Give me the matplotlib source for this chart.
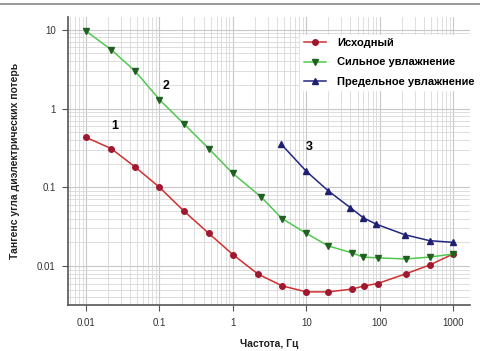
import numpy as np
import matplotlib.pyplot as plt
from matplotlib.lines import Line2D

# curve 1 - Исходный
f1 = [0.01, 0.022, 0.047, 0.1, 0.215, 0.47, 1.0, 2.2, 4.7, 10, 20, 42, 62, 94, 230, 480, 1000]
tg1 = [0.43, 0.31, 0.18, 0.1, 0.05, 0.026, 0.014, 0.0079, 0.0056, 0.0047, 0.0047, 0.0051, 0.0056, 0.006, 0.008, 0.0103, 0.0142]

# curve 2 - Сильное увлажнение
f2 = [0.01, 0.022, 0.047, 0.1, 0.215, 0.47, 1.0, 2.4, 4.7, 10, 20, 42, 60, 94, 230, 480, 1000]
tg2 = [9.6, 5.6, 2.96, 1.3, 0.64, 0.31, 0.15, 0.076, 0.04, 0.026, 0.018, 0.0147, 0.013, 0.0127, 0.0123, 0.013, 0.0142]

# curve 3 - Предельное увлажнение
f3 = [4.6, 10, 20, 40, 60, 90, 220, 480, 1000]
tg3 = [0.35, 0.16, 0.09, 0.055, 0.041, 0.034, 0.025, 0.021, 0.020]

labels = ["Исходный", "Сильное увлажнение", "Предельное увлажнение"]
xticks = [0.01, 0.1, 1, 10, 100, 1000]
xticklabels = ["0.01", "0.1", "1", "10", "100", "1000"]
yticks = [0.01, 0.1, 1, 10]
yticklabels = ["0.01", "0.1", "1", "10"]

plt.rcParams['font.family'] = ['Liberation Sans', 'DejaVu Sans']

fig = plt.figure(figsize=(4.8, 3.51), dpi=100)
ax = fig.add_axes([0.142, 0.131, 0.837, 0.821])

ax.plot(f1, tg1, color="#d03030", marker="o", ms=4, mfc="#a01830", mec="#a01830", lw=1.1, label=labels[0])
ax.plot(f2, tg2, color="#50c850", marker="v", ms=4.5, mfc="#206020", mec="#206020", lw=1.1, label=labels[1])
ax.plot(f3, tg3, color="#202880", marker="^", ms=4.5, mfc="#202070", mec="#202070", lw=1.1, label=labels[2])

ax.set_xscale("log")
ax.set_yscale("log")
ax.set_xlim(0.0057, 1700)
ax.set_ylim(0.0032, 14.6)

ax.set_xticks(xticks)
ax.set_xticklabels(xticklabels)
ax.set_yticks(yticks)
ax.set_yticklabels(yticklabels)
ax.tick_params(axis="both", which="major", labelsize=7, color="#555555", length=4, pad=5, labelcolor="#333333")
ax.tick_params(axis="both", which="minor", length=0)

ax.grid(True, which="major", color="#c8c8c8", lw=0.8)
ax.grid(True, which="minor", color="#d8d8d8", lw=0.6)
ax.set_axisbelow(True)

for s in ["top", "right"]:
    ax.spines[s].set_visible(False)
for s in ["left", "bottom"]:
    ax.spines[s].set_color("#555555")
    ax.spines[s].set_linewidth(1.2)

ax.set_xlabel("Частота, Гц", fontsize=7.5, fontweight="bold", color="#222222", labelpad=8)
ax.set_ylabel("Тангенс угла диэлектрических потерь", fontsize=7.5, fontweight="bold", color="#222222", labelpad=12)

ax.text(0.022, 0.55, "1", fontsize=9, fontweight="bold")
ax.text(0.11, 1.75, "2", fontsize=9, fontweight="bold")
ax.text(10, 0.3, "3", fontsize=9, fontweight="bold")

leg = ax.legend(loc="upper left", bbox_to_anchor=(0.578, 0.938), fontsize=8, frameon=True,
                framealpha=1, edgecolor="white", handlelength=2.0, handletextpad=1.0,
                labelspacing=0.85, borderpad=0.3, borderaxespad=0)
for t in leg.get_texts():
    t.set_fontweight("bold")

fig.add_artist(Line2D([0, 1], [0.988, 0.988], color="#888888", lw=1.2))

fig.savefig("out.png", dpi=100)
